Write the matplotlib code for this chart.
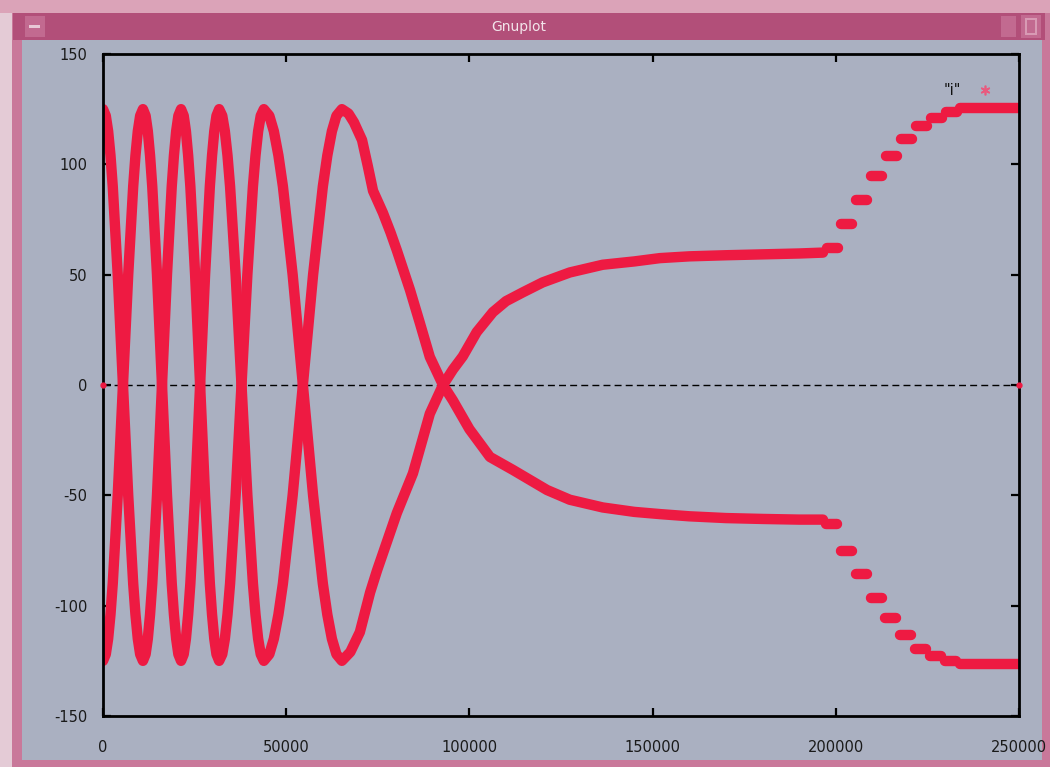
import matplotlib
matplotlib.use("Agg")
import matplotlib.pyplot as plt
from matplotlib.patches import Rectangle

# ---------------------------------------------------------------------------
# Data (x in samples, y in value units)
# ---------------------------------------------------------------------------
# oscillating part, shared x positions (0 .. 65200)
osc_x = [0, 760, 1400, 2040, 2660, 4020, 5450, 6880, 8240, 8860, 9500, 10140,
         10900, 11630, 12230, 12840, 13440, 14740, 16100, 17460, 18760, 19360, 19970, 20570,
         21300, 22030, 22630, 23240, 23840, 25140, 26500, 27860, 29160, 29760, 30370, 30970,
         31700, 32550, 33260, 33980, 34680, 36200, 37800, 39400, 40920, 41620, 42340, 43050,
         43900, 45390, 46630, 47880, 49100, 51760, 54550, 57340, 60000, 61220, 62470, 63710,
         65200]
# curve starting at +125
osc_a = [125, 122, 115, 104, 90, 50, 0, -50, -90, -104, -115, -122,
         -125, -122, -115, -104, -90, -50, 0, 50, 90, 104, 115, 122,
         125, 122, 115, 104, 90, 50, 0, -50, -90, -104, -115, -122,
         -125, -122, -115, -104, -90, -50, 0, 50, 90, 104, 115, 122,
         125, 122, 115, 104, 90, 50, 0, -50, -90, -104, -115, -122,
         -125]
# curve starting at -125
osc_b = [-125, -122, -115, -104, -90, -50, 0, 50, 90, 104, 115, 122,
         125, 122, 115, 104, 90, 50, 0, -50, -90, -104, -115, -122,
         -125, -122, -115, -104, -90, -50, 0, 50, 90, 104, 115, 122,
         125, 122, 115, 104, 90, 50, 0, -50, -90, -104, -115, -122,
         -125, -122, -115, -104, -90, -50, 0, 50, 90, 104, 115, 122,
         125]

# after the last turn: the +125 curve rises to the upper plateau
tail_a_x = [67500, 70100, 72900, 74800, 77500, 80200, 84600, 89200, 92800,
            95500, 98200, 102000, 106400, 110000, 114600, 120000, 127400,
            136400, 145000, 152000, 160000, 170000, 180000, 190000, 196500]
tail_a_y = [-121, -112, -94, -84, -71, -58, -40, -13, 0,
            7, 13, 24, 33, 38, 42, 46.5, 51,
            54.5, 56, 57.5, 58.3, 58.8, 59.2, 59.6, 60]
# ... and the -125 curve falls to the lower plateau
tail_b_x = [67000, 68500, 70700, 72300, 73700, 76400, 78500, 80200, 83800, 86500, 89200, 92800,
            95500, 100000, 105600, 111900, 121200, 127400,
            136400, 145000, 152000, 160000, 170000, 180000, 190000, 196500]
tail_b_y = [123, 119, 111, 99, 88, 78, 69, 61, 43, 28, 12.7, 0,
            -7, -20, -32.6, -38.5, -47.6, -52,
            -55.5, -57.5, -58.5, -59.5, -60.3, -60.7, -61, -61]

# stepped clusters after 197000: start, end, level
up_x0 = [197500, 201300, 205400, 209500, 213700, 217800, 221800, 226000, 230000, 234000]
up_x1 = [200500, 204300, 208400, 212500, 216700, 220800, 224800, 229000, 233000, 250000]
up_y = [62, 73, 84, 94.5, 104, 111.5, 117.5, 121, 123.5, 125.5]

lo_x0 = [197200, 201300, 205400, 209500, 213500, 217600, 221700, 225800, 229900, 234000]
lo_x1 = [200200, 204300, 208400, 212500, 216500, 220600, 224700, 228800, 232900, 250000]
lo_y = [-63, -75, -85.7, -96.5, -105.6, -113.3, -119.6, -122.8, -125, -126.4]

# lone points on the zero line at both ends
end_x = [0, 250000]
end_y = [0, 0]

x_ticks = [0, 50000, 100000, 150000, 200000, 250000]
y_ticks = [-150, -100, -50, 0, 50, 100, 150]

RED = "#ee1a42"
GRAY = "#aab0c1"
W, H = 1050, 767

plt.rcParams.update({"font.family": ["DejaVu Sans"], "font.size": 10.5})
fig = plt.figure(figsize=(W / 100, H / 100), dpi=100, facecolor="#c9789a")


def px_rect(x, y, w, h, color):
    fig.add_artist(Rectangle((x / W, 1 - (y + h) / H), w / W, h / H,
                             transform=fig.transFigure, color=color, lw=0, zorder=-10))


# window decoration
px_rect(0, 0, 12, H, "#e4cbd6")
px_rect(0, 0, W, 13, "#dba3b8")
px_rect(13, 13, 1032, 27, "#b24f79")
px_rect(22, 40, 1020, 720, GRAY)
px_rect(25, 16, 20, 21, "#c26a90")
px_rect(29, 25, 11, 3, "#e8c8d6")
px_rect(1001, 16, 15, 21, "#c26a90")
px_rect(1021, 15, 20, 23, "#c26a90")
px_rect(1025, 18, 12, 17, "#d89ab4")
px_rect(1027, 20, 8, 13, "#c26a90")
fig.text(519 / W, 1 - 27 / H, "Gnuplot", color="#f2e4ea", fontsize=10,
         ha="center", va="center")

ax = fig.add_axes([103 / W, 1 - 716 / H, 916 / W, 662 / H], facecolor=GRAY)
ax.set_xlim(0, 250000)
ax.set_ylim(-150, 150)

ax.axhline(0, color="black", lw=1, dashes=(5, 3), zorder=1)

line_kw = dict(color=RED, lw=7.5, solid_capstyle="round", solid_joinstyle="round", zorder=2)
ax.plot(osc_x + tail_a_x, osc_a + tail_a_y, **line_kw)
ax.plot(osc_x + tail_b_x, osc_b + tail_b_y, **line_kw)
ax.hlines(up_y, up_x0, up_x1, color=RED, lw=7.5, capstyle="round", zorder=2)
ax.hlines(lo_y, lo_x0, lo_x1, color=RED, lw=7.5, capstyle="round", zorder=2)
ax.plot(end_x, end_y, ls="none", marker="o", ms=3.5, color=RED, clip_on=False, zorder=3)

# key
ax.text(0.937, 0.945, '"i"', transform=ax.transAxes, ha="right", va="center",
        fontsize=10.5, color="#111111")
ax.plot([0.963], [0.945], transform=ax.transAxes, marker=(6, 2, 0), ms=7,
        mew=1.2, color="#e85a7e", ls="none")

ax.set_xticks(x_ticks)
ax.set_yticks(y_ticks)
ax.set_xticklabels([str(v) for v in x_ticks])
ax.set_yticklabels([str(v) for v in y_ticks])
ax.tick_params(direction="in", length=6, width=1.6, top=True, right=True,
               colors="black", labelcolor="#1a1a1a")
ax.tick_params(axis="x", pad=17)
ax.tick_params(axis="y", pad=11)
for s in ax.spines.values():
    s.set_linewidth(2)
    s.set_color("black")

fig.savefig("out.png", dpi=100, facecolor=fig.get_facecolor())
